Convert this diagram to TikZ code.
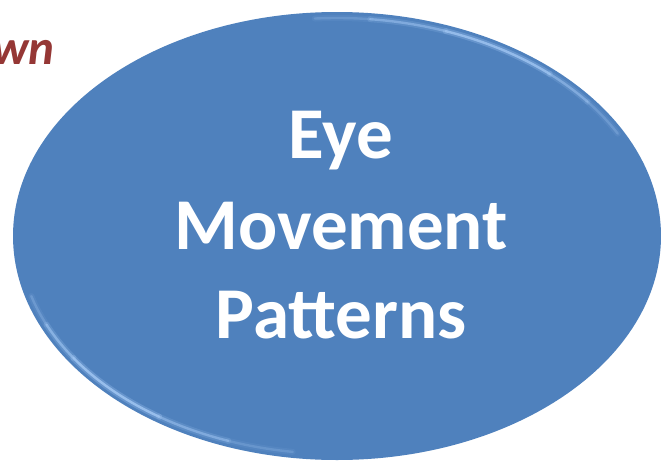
\documentclass[tikz,border=0pt]{standalone}
\usepackage{fontspec}
\setmainfont{Carlito}
\definecolor{ovalblue}{HTML}{4F81BD}
\definecolor{rimblue}{HTML}{9DC3F0}
\definecolor{titlered}{HTML}{953735}
\tikzset{
  oval/.style={ellipse, fill=ovalblue, inner sep=0pt},
  ovaltext/.style={text=white, font=\bfseries\fontsize{73}{90}\selectfont, anchor=base, inner sep=0pt},
  rimsoft/.style={draw=rimblue, line width=6pt, line cap=round},
  rim/.style={draw=rimblue, line width=2.4pt, line cap=round},
  headtext/.style={text=titlered, font=\bfseries\itshape\fontsize{49}{58}\selectfont, anchor=base east, inner sep=0pt}
}
\usetikzlibrary{shapes.geometric}
\begin{document}
\begin{tikzpicture}[x=1pt,y=-1pt]
\useasboundingbox (0,0) rectangle (661,463);
\fill[white] (0,0) rectangle (661,463);
\node[oval, minimum width=648pt, minimum height=448pt] (ell) at (337,236) {};
% light rims
\begin{scope}
\clip (337,236) ellipse [x radius=324, y radius=224];
\foreach \a/\b/\o in {28/38/0.3, 38/48/0.55, 48/70/0.85, 70/84/0.55, 84/94/0.25,
                      196/204/0.3, 204/214/0.65, 214/236/0.9, 236/250/0.55, 250/262/0.25}{
  \draw[rimsoft, draw opacity=0.35*\o] ({337+318*cos(\a)},{236-218*sin(\a)})
     arc[start angle=-\a, end angle=-\b, x radius=318, y radius=218];
  \draw[rim, draw opacity=\o] ({337+318*cos(\a)},{236-218*sin(\a)})
     arc[start angle=-\a, end angle=-\b, x radius=318, y radius=218];
}
\end{scope}
\node[ovaltext] (eye) at (341,158) {Eye};
\node[ovaltext] (mov) at (341,249) {Movement};
\node[ovaltext] (pat) at (341,338) {Patterns};
\node[headtext] (head) at (55,64) {wn};
\end{tikzpicture}
\end{document}
